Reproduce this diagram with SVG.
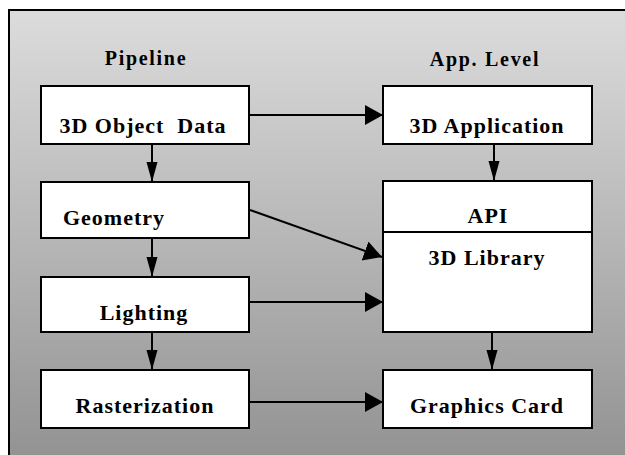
<svg xmlns="http://www.w3.org/2000/svg" width="625" height="455" viewBox="0 0 625 455">
  <defs>
    <linearGradient id="bg" x1="0" y1="10" x2="0" y2="455" gradientUnits="userSpaceOnUse">
      <stop offset="0" stop-color="#dcdcdc"/>
      <stop offset="1" stop-color="#939393"/>
    </linearGradient>
    <!-- wide head for horizontal / diagonal links -->
    <marker id="headH" markerUnits="userSpaceOnUse" markerWidth="20" markerHeight="22" refX="18" refY="10" orient="auto">
      <path d="M0,0 L18,10 L0,20 Z" fill="#000"/>
    </marker>
    <!-- slim head for vertical links -->
    <marker id="headV" markerUnits="userSpaceOnUse" markerWidth="22" markerHeight="14" refX="20" refY="6" orient="auto">
      <path d="M0,0.5 L20,6 L0,11.5 Z" fill="#000"/>
    </marker>
    <style>
      .box { fill: #fff; stroke: #000; stroke-width: 2; }
      .lbl { font-family: "Liberation Serif", "Times New Roman", serif; font-weight: bold; font-size: 22px; letter-spacing: 1px; fill: #000; text-anchor: middle; }
      .hdr { font-family: "Liberation Serif", "Times New Roman", serif; font-weight: bold; font-size: 20px; letter-spacing: 1.7px; fill: #000; text-anchor: middle; }
      .link { stroke: #000; stroke-width: 2; fill: none; }
      .h { marker-end: url(#headH); }
      .v { marker-end: url(#headV); }
    </style>
  </defs>

  <!-- frame -->
  <rect x="9" y="10" width="640" height="470" fill="url(#bg)" stroke="#000" stroke-width="2"/>

  <!-- column headings -->
  <text class="hdr" x="146" y="65">Pipeline</text>
  <text class="hdr" x="485" y="66">App. Level</text>

  <!-- pipeline stages -->
  <g id="object-data">
    <rect class="box" x="41" y="86" width="208" height="58"/>
    <text class="lbl" x="143" y="133" xml:space="preserve">3D Object  Data</text>
  </g>
  <g id="geometry">
    <rect class="box" x="41" y="182" width="208" height="56"/>
    <text class="lbl" x="114" y="225">Geometry</text>
  </g>
  <g id="lighting">
    <rect class="box" x="41" y="277" width="208" height="55"/>
    <text class="lbl" x="144" y="320">Lighting</text>
  </g>
  <g id="rasterization">
    <rect class="box" x="41" y="370" width="208" height="58"/>
    <text class="lbl" x="145" y="413">Rasterization</text>
  </g>

  <!-- application side -->
  <g id="application">
    <rect class="box" x="383" y="86" width="209" height="58"/>
    <text class="lbl" x="487" y="133">3D Application</text>
  </g>
  <g id="api-library">
    <rect class="box" x="383" y="181" width="209" height="151"/>
    <line x1="383" y1="232" x2="592" y2="232" stroke="#000" stroke-width="2"/>
    <text class="lbl" x="488" y="223">API</text>
    <text class="lbl" x="487" y="265">3D Library</text>
  </g>
  <g id="graphics-card">
    <rect class="box" x="383" y="370" width="209" height="58"/>
    <text class="lbl" x="487" y="413">Graphics Card</text>
  </g>

  <!-- connectors -->
  <g id="links">
    <line class="link v" x1="152" y1="145" x2="152" y2="182"/>
    <line class="link v" x1="152" y1="239" x2="152" y2="277"/>
    <line class="link v" x1="152" y1="333" x2="152" y2="370"/>
    <line class="link v" x1="494" y1="145" x2="494" y2="181"/>
    <line class="link v" x1="492" y1="333" x2="492" y2="370"/>
    <line class="link h" x1="250" y1="115" x2="383" y2="115"/>
    <line class="link h" x1="250" y1="210" x2="382" y2="257"/>
    <line class="link h" x1="250" y1="302" x2="383" y2="302"/>
    <line class="link h" x1="250" y1="402" x2="383" y2="402"/>
  </g>
</svg>
